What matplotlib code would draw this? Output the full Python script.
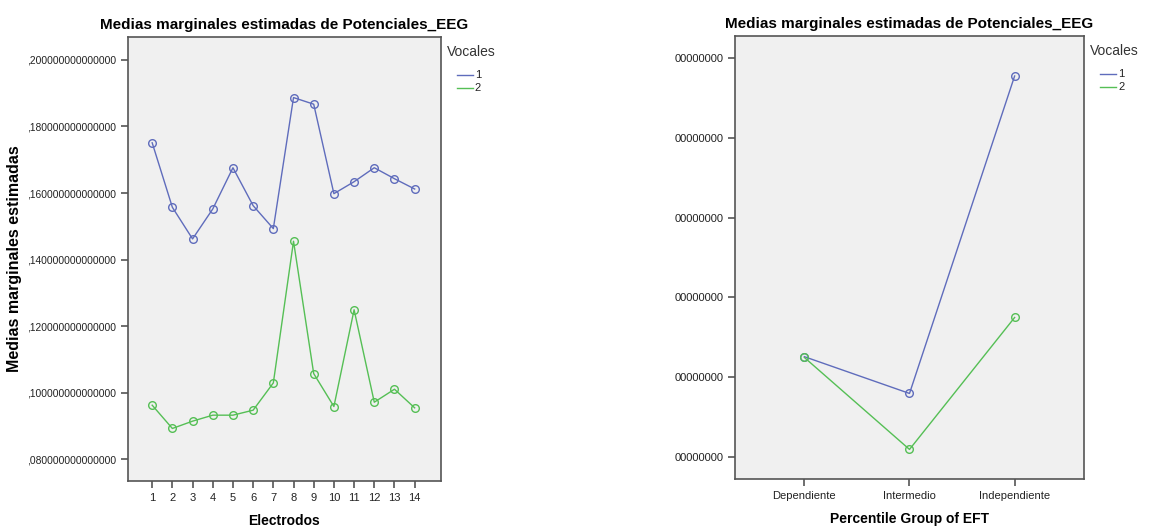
import matplotlib
matplotlib.use('Agg')
import matplotlib.pyplot as plt
from matplotlib.lines import Line2D
from matplotlib.transforms import offset_copy
from matplotlib.ticker import FuncFormatter, FixedLocator, FixedFormatter

plt.rcParams['font.family'] = ['Liberation Sans', 'DejaVu Sans']

# datos: electrodos
electrodos = list(range(1, 15))
vocal1 = [0.1751, 0.1557, 0.1462, 0.1552, 0.1676, 0.1562, 0.1493,
          0.1887, 0.1867, 0.1598, 0.1634, 0.1676, 0.1643, 0.1612]
vocal2 = [0.0962, 0.0892, 0.0914, 0.0932, 0.0932, 0.0947, 0.1029,
          0.1455, 0.1057, 0.0958, 0.1249, 0.0971, 0.1010, 0.0954]

# datos: grupos EFT (escala de ticks, etiquetas truncadas en el original)
grupos = ['Dependiente', 'Intermedio', 'Independiente']
eft_vocal1 = [1.26, 0.80, 4.77]
eft_vocal2 = [1.25, 0.10, 1.75]
eft_ticks = [0, 1, 2, 3, 4, 5]
eft_ticklabels = ['00000000'] * 6

vocales = ['1', '2']
azul = '#5f6cbc'
verde = '#55bf55'
fondo = '#f0f0f0'
borde = '#555555'

fig = plt.figure(figsize=(11.6, 5.29), dpi=100)
ax1 = fig.add_axes([0.1103, 0.0907, 0.2698, 0.8393])
ax2 = fig.add_axes([0.6336, 0.0945, 0.3009, 0.8374])


def en_px(ax, dx, dy):
    # desplazamiento en pixeles desde la esquina superior derecha del eje
    return offset_copy(ax.transAxes, fig=fig, x=dx, y=-dy, units='dots')


def leyenda_lineas(ax):
    inv = fig.transFigure.inverted()
    for i, c in enumerate([azul, verde]):
        x0 = en_px(ax, 16, 38 + 13 * i).transform((1.0, 1.0))
        p0, p1 = inv.transform(x0), inv.transform(x0 + [16, 0])
        fig.add_artist(Line2D([p0[0], p1[0]], [p0[1], p1[1]], color=c, lw=1,
                              transform=fig.transFigure))


def estilo(ax):
    ax.set_facecolor(fondo)
    for s in ax.spines.values():
        s.set_color(borde)
        s.set_linewidth(1.2)
    ax.tick_params(direction='out', length=5, width=1.2, color=borde,
                   labelsize=8, labelcolor='#222222')
    ax.set_title('Medias marginales estimadas de Potenciales_EEG',
                 fontsize=11, fontweight='bold', pad=6)
    ax.text(1.0, 1.0, 'Vocales', transform=en_px(ax, 6, 15), fontsize=10,
            color='#333333', ha='left', va='center')
    for i, lab in enumerate(vocales):
        ax.text(1.0, 1.0, lab, transform=en_px(ax, 34, 38 + 13 * i), fontsize=8,
                color='#222222', ha='left', va='center')


def linea(ax, x, y, c):
    ax.plot(x, y, color=c, lw=1.0, marker='o', markersize=5.5,
            markerfacecolor='none', markeredgecolor=c, markeredgewidth=1.0)


# panel izquierdo
linea(ax1, electrodos, vocal1, azul)
linea(ax1, electrodos, vocal2, verde)
ax1.set_xlim(-0.2, 15.3)
ax1.set_ylim(0.0734, 0.2069)
ax1.set_xticks(electrodos)
ax1.set_yticks([0.08, 0.10, 0.12, 0.14, 0.16, 0.18, 0.20])
ax1.yaxis.set_major_formatter(FuncFormatter(lambda v, p: ',' + f'{v:.15f}'.split('.')[1]))
ax1.set_xlabel('Electrodos', fontsize=10, fontweight='bold', labelpad=8)
ax1.set_ylabel('Medias marginales estimadas', fontsize=11.5, fontweight='bold')
ax1.yaxis.set_label_coords(-0.338, 0.5)
estilo(ax1)
ax1.tick_params(axis='y', labelsize=7.4)

# panel derecho
xg = range(len(grupos))
linea(ax2, xg, eft_vocal1, azul)
linea(ax2, xg, eft_vocal2, verde)
ax2.set_xlim(-0.66, 2.66)
ax2.set_ylim(-0.27, 5.27)
ax2.set_xticks(list(xg))
ax2.set_xticklabels(grupos)
ax2.yaxis.set_major_locator(FixedLocator(eft_ticks))
ax2.yaxis.set_major_formatter(FixedFormatter(eft_ticklabels))
ax2.set_xlabel('Percentile Group of EFT', fontsize=10, fontweight='bold', labelpad=8)
estilo(ax2)

leyenda_lineas(ax1)
leyenda_lineas(ax2)

fig.savefig('out.png', dpi=100)
